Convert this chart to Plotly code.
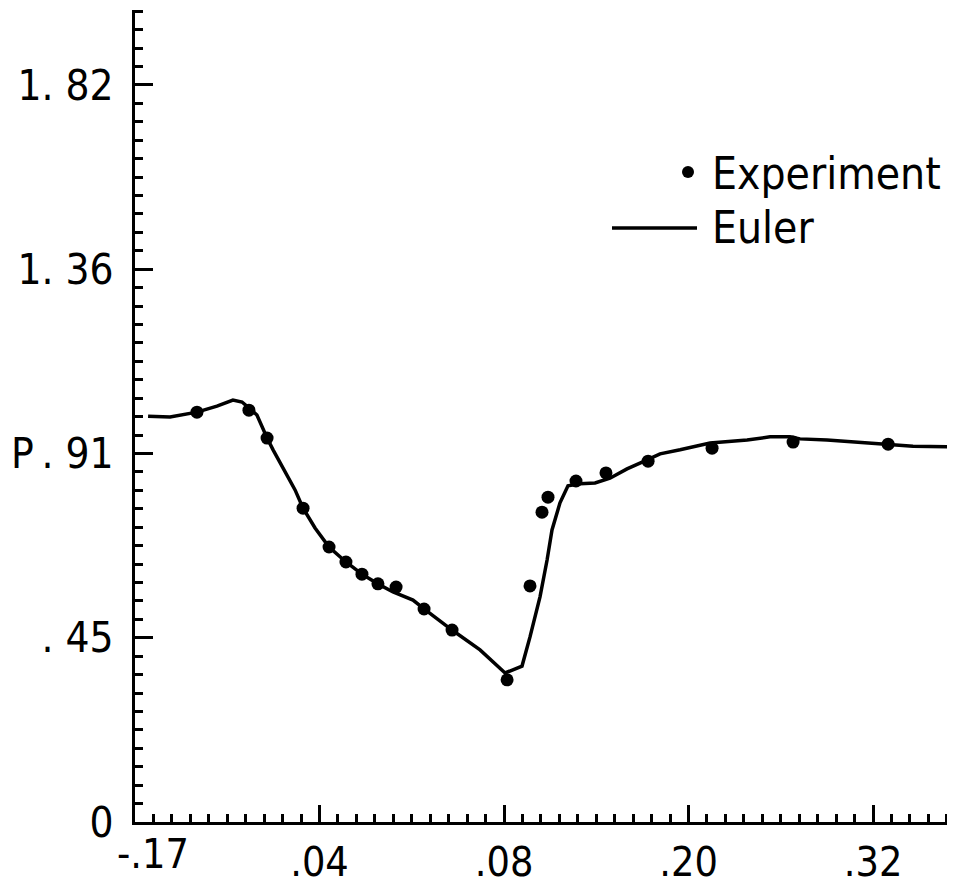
import plotly.graph_objects as go

# Experiment data (x, P)
exp_x = [-0.1197, -0.0859, -0.0741, -0.0507, -0.0338, -0.0228, -0.0124, -0.0020, 0.0098,
         0.0280, 0.0462, 0.0820, 0.0969, 0.1047, 0.1086, 0.1268, 0.1463, 0.1737,
         0.2153, 0.2680, 0.3298]
exp_p = [1.012, 1.017, 0.948, 0.775, 0.679, 0.642, 0.612, 0.588, 0.580,
         0.526, 0.474, 0.351, 0.583, 0.765, 0.802, 0.842, 0.862, 0.891,
         0.923, 0.938, 0.933]

# Euler solution
eul_x = [-0.1515, -0.1372, -0.1197, -0.1067, -0.0963, -0.0904, -0.0852, -0.0807, -0.0741,
         -0.0702, -0.0559, -0.0507, -0.0429, -0.0338, -0.0228, -0.0124, -0.0020, 0.0078,
         0.0208, 0.0280, 0.0462, 0.0644, 0.0807, 0.0917, 0.0969, 0.1034, 0.1080, 0.1112,
         0.1164, 0.1216, 0.1294, 0.1392, 0.1489, 0.1600, 0.1684, 0.1815, 0.1945, 0.2140,
         0.2381, 0.2530, 0.2660, 0.2725, 0.2901, 0.3096, 0.3291, 0.3460, 0.3733]
eul_p = [1.002, 1.000, 1.012, 1.027, 1.042, 1.037, 1.020, 1.005, 0.948,
         0.919, 0.820, 0.775, 0.726, 0.679, 0.642, 0.612, 0.588, 0.568,
         0.548, 0.526, 0.474, 0.425, 0.368, 0.385, 0.457, 0.556, 0.647, 0.721,
         0.788, 0.830, 0.835, 0.837, 0.849, 0.872, 0.886, 0.909, 0.919, 0.936,
         0.943, 0.951, 0.951, 0.946, 0.943, 0.938, 0.931, 0.928, 0.926]

x_tickvals = [-0.16, -0.04, 0.08, 0.20, 0.32]
x_ticktext = ["-.17", ".04", ".08", ".20", ".32"]
y_tickvals = [0, 0.455, 0.91, 1.365, 1.82]
y_ticktext = ["0", ". 45", ". 91", "1. 36", "1. 82"]

FONT = "Liberation Sans Narrow, DejaVu Sans Condensed, Arial Narrow, sans-serif"

# page body adds an 8px offset; figure sized to fill the rest of the window
W, H = 947, 878
PL, PT, PB = 127, 2, 64
PW, PH = W - PL, H - PT - PB

fig = go.Figure()
fig.add_trace(go.Scatter(x=eul_x, y=eul_p, mode="lines",
                         line=dict(color="black", width=3.5), name="Euler",
                         showlegend=False))
fig.add_trace(go.Scatter(x=exp_x, y=exp_p, mode="markers",
                         marker=dict(color="black", size=13), name="Experiment",
                         showlegend=False))

# the first x label sits right of its tick in the original; drawn separately
x_axis_text = [""] + x_ticktext[1:]

fig.update_layout(
    width=W, height=H,
    margin=dict(l=PL, r=0, t=PT, b=PB, autoexpand=False),
    paper_bgcolor="white", plot_bgcolor="white",
    font=dict(family=FONT, color="black", size=42),
    xaxis=dict(range=[-0.16, 0.3733], showgrid=False, zeroline=False, automargin=False,
               showline=True, linecolor="black", linewidth=3,
               tickmode="array", tickvals=x_tickvals, ticktext=x_axis_text,
               ticks="inside", ticklen=17, tickwidth=2.5, tickcolor="black",
               tickfont=dict(size=41, family=FONT), ticklabelstandoff=2,
               minor=dict(tickmode="linear", tick0=-0.16, dtick=0.012,
                          ticks="inside", ticklen=8, tickwidth=2.5, tickcolor="black")),
    yaxis=dict(range=[0, 2.005], showgrid=False, zeroline=False, automargin=False,
               showline=True, linecolor="black", linewidth=3,
               tickmode="array", tickvals=y_tickvals, ticktext=y_ticktext,
               ticks="inside", ticklen=18, tickwidth=2.5, tickcolor="black",
               tickfont=dict(size=42, family=FONT), ticklabelstandoff=10,
               minor=dict(tickmode="linear", tick0=0, dtick=0.0455,
                          ticks="inside", ticklen=8, tickwidth=2.5, tickcolor="black")),
)

fig.add_annotation(text=x_ticktext[0], xref="x", yref="paper", x=x_tickvals[0], y=0,
                   xanchor="center", yanchor="top", xshift=18, yshift=-6, showarrow=False,
                   font=dict(size=41, family=FONT))

# Axis label "P"
fig.add_annotation(text="P", xref="paper", yref="y", x=0, y=0.91,
                   xanchor="right", yanchor="middle", xshift=-99, showarrow=False,
                   font=dict(size=42, family=FONT))

# Manual legend (positions in viewport pixels converted to paper coords)
def px(x):
    return (x - 8 - PL) / PW

def py(y):
    return (PT + PH - (y - 8)) / PH

fig.add_shape(type="circle", xref="paper", yref="paper",
              x0=px(682), x1=px(694), y0=py(178), y1=py(166),
              fillcolor="black", line=dict(color="black", width=0))
fig.add_annotation(text="Experiment", xref="paper", yref="paper", x=px(710), y=py(174),
                   xanchor="left", yanchor="middle", showarrow=False,
                   font=dict(size=44, family=FONT))
fig.add_shape(type="line", xref="paper", yref="paper",
              x0=px(612), x1=px(697), y0=py(228), y1=py(228),
              line=dict(color="black", width=3.5))
fig.add_annotation(text="Euler", xref="paper", yref="paper", x=px(710), y=py(228),
                   xanchor="left", yanchor="middle", showarrow=False,
                   font=dict(size=44, family=FONT))

fig.write_html("out.html")
